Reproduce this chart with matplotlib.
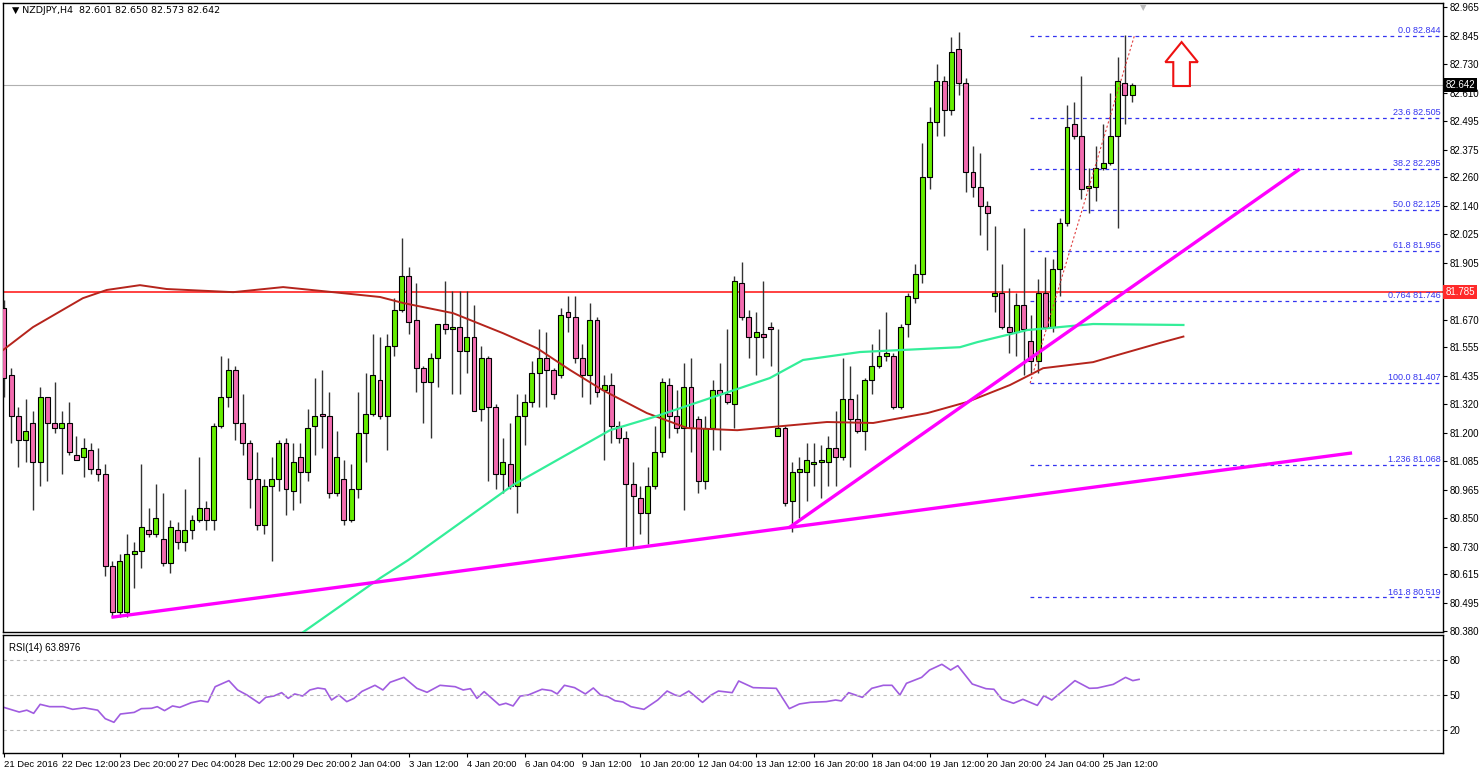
import numpy as np
import matplotlib
matplotlib.use("Agg")
import matplotlib.pyplot as plt
from matplotlib.patches import Polygon

plt.rcParams['font.family'] = ['Liberation Sans', 'DejaVu Sans']

# ---------------- data ----------------
opens = [81.72,81.44,81.27,81.17,81.24,81.08,81.35,81.24,81.22,81.24,81.11,81.10,81.13,81.05,81.03,80.65,80.46,80.46,80.70,80.71,
         80.80,80.78,80.76,80.66,80.80,80.75,80.80,80.84,80.89,80.84,81.23,81.35,81.46,81.24,81.16,81.01,80.82,80.98,81.01,81.16,
         80.96,81.10,81.04,81.23,81.28,81.27,80.95,81.01,80.84,80.97,81.20,81.28,81.42,81.27,81.56,81.71,81.85,81.67,81.47,81.41,
         81.51,81.65,81.63,81.64,81.54,81.60,81.30,81.51,81.31,81.03,81.07,80.98,81.27,81.33,81.45,81.51,81.46,81.44,81.70,81.68,
         81.51,81.44,81.67,81.38,81.40,81.23,81.18,80.99,80.93,80.87,80.98,81.12,81.40,81.27,81.22,81.39,81.26,81.00,81.22,81.38,
         81.36,81.32,81.82,81.68,81.60,81.61,81.64,81.19,81.22,80.92,81.04,81.04,81.07,81.08,81.08,81.14,81.10,81.34,81.26,81.21,
         81.42,81.48,81.52,81.52,81.31,81.65,81.76,81.86,82.26,82.49,82.66,82.54,82.79,82.65,82.28,82.22,82.14,81.77,81.78,81.64,
         81.62,81.73,81.58,81.50,81.78,81.64,81.88,82.07,82.48,82.43,82.215,82.22,82.30,82.32,82.43,82.65,82.601]
highs = [81.75,81.47,81.31,81.34,81.29,81.39,81.35,81.41,81.29,81.33,81.19,81.18,81.16,81.14,81.07,80.67,80.70,80.78,80.75,81.07,
         80.89,80.99,80.95,80.84,80.83,80.97,80.86,81.10,80.92,81.24,81.52,81.51,81.48,81.36,81.17,81.12,81.01,81.10,81.17,81.18,
         81.16,81.16,81.30,81.43,81.46,81.37,81.21,81.09,81.07,81.37,81.45,81.61,81.60,81.61,81.76,82.01,81.89,81.82,81.48,81.53,
         81.65,81.83,81.79,81.79,81.79,81.73,81.56,81.52,81.32,81.18,81.24,81.36,81.36,81.50,81.63,81.62,81.47,81.72,81.77,81.77,
         81.57,81.74,81.68,81.44,81.45,81.25,81.21,81.08,80.98,81.06,81.23,81.43,81.43,81.38,81.49,81.51,81.27,81.27,81.42,81.49,
         81.63,81.85,81.91,81.71,81.70,81.83,81.66,81.63,81.23,81.08,81.10,81.16,81.16,81.15,81.19,81.29,81.51,81.48,81.36,81.43,
         81.57,81.63,81.70,81.53,81.65,81.78,81.90,82.40,82.55,82.73,82.68,82.84,82.86,82.67,82.39,82.36,82.16,82.06,81.90,81.80,
         81.78,82.05,81.69,81.84,81.93,81.92,82.09,82.56,82.57,82.68,82.30,82.39,82.48,82.61,82.76,82.85,82.650]
lows = [81.35,81.16,81.06,81.08,80.88,80.98,81.00,81.20,81.03,81.11,81.09,81.02,81.03,81.00,80.61,80.44,80.44,80.44,80.56,80.64,
        80.77,80.77,80.65,80.62,80.72,80.71,80.76,80.83,80.80,80.80,81.22,81.31,81.17,81.11,80.89,80.80,80.78,80.67,80.96,80.86,
        80.88,80.91,81.00,81.11,81.14,80.93,80.94,80.82,80.83,80.93,81.08,81.27,81.26,81.13,81.52,81.70,81.61,81.37,81.24,81.18,
        81.39,81.61,81.36,81.36,81.45,81.29,81.25,81.00,80.97,80.95,80.97,80.87,81.15,81.31,81.31,81.31,81.34,81.43,81.62,81.49,
        81.35,81.32,81.35,81.09,81.16,81.16,80.73,80.73,80.78,80.74,80.97,81.10,81.18,81.20,80.88,81.12,80.95,80.97,81.13,81.13,
        81.32,81.22,81.67,81.51,81.44,81.51,81.48,81.19,80.90,80.79,80.85,80.92,80.98,80.93,80.98,80.98,81.09,81.06,81.20,81.13,
        81.36,81.47,81.50,81.30,81.30,81.60,81.74,81.82,82.21,82.43,82.43,82.52,82.60,82.20,82.18,82.02,81.96,81.70,81.63,81.53,
        81.52,81.44,81.45,81.45,81.63,81.62,81.77,82.06,82.42,82.17,82.11,82.16,82.29,82.31,82.05,82.48,82.573]
closes = [81.43,81.27,81.17,81.21,81.08,81.35,81.24,81.22,81.24,81.12,81.09,81.14,81.05,81.03,80.65,80.46,80.67,80.70,80.71,80.81,
          80.78,80.85,80.66,80.81,80.75,80.80,80.84,80.89,80.84,81.23,81.35,81.46,81.24,81.16,81.01,80.82,80.98,81.01,81.16,80.97,
          81.08,81.04,81.22,81.27,81.27,80.95,81.10,80.84,80.97,81.20,81.28,81.44,81.27,81.56,81.71,81.85,81.66,81.47,81.41,81.51,
          81.65,81.63,81.64,81.54,81.60,81.29,81.51,81.31,81.03,81.08,80.98,81.27,81.33,81.45,81.51,81.46,81.36,81.69,81.68,81.51,
          81.44,81.67,81.37,81.40,81.23,81.18,80.99,80.94,80.87,80.98,81.12,81.41,81.27,81.22,81.39,81.22,81.00,81.22,81.38,81.36,
          81.33,81.83,81.68,81.60,81.62,81.60,81.63,81.22,80.91,81.04,81.05,81.09,81.08,81.09,81.14,81.10,81.34,81.26,81.21,81.42,
          81.48,81.52,81.53,81.31,81.64,81.77,81.86,82.26,82.49,82.66,82.54,82.78,82.65,82.28,82.22,82.14,82.11,81.78,81.64,81.62,
          81.73,81.63,81.50,81.78,81.64,81.88,82.07,82.47,82.43,82.21,82.225,82.30,82.32,82.43,82.66,82.60,82.642]

ma_red_bar = [-0.14,4.0,10.9,14.2,18.8,22.5,31.7,38.6,45.5,52.0,55.2,62.1,69.0,73.7,78.3,82.8,88.9,94.5,101.4,104.6,113.8,120.2,127.7,133.2,139.1,143.7,150.6,153.0,159.9,163.1]
ma_red_val = [81.544,81.639,81.759,81.793,81.813,81.797,81.784,81.805,81.784,81.764,81.739,81.697,81.614,81.552,81.461,81.378,81.283,81.221,81.212,81.221,81.246,81.242,81.283,81.329,81.399,81.469,81.494,81.515,81.574,81.600]
ma_green_bar = [41.4,52.0,55.9,70.4,83.8,89.8,105.9,110.5,118.4,132.2,134.6,141.5,150.6,163.1]
ma_green_val = [80.376,80.599,80.674,80.985,81.212,81.266,81.428,81.503,81.536,81.556,81.577,81.627,81.652,81.648]

rsi_bar = [-0.02,2.1,3.15,4.1,5.0,6.3,8.2,9.5,11.1,12.95,14.0,15.2,16.1,18.0,19.0,20.4,21.2,22.2,23.3,24.3,25.9,27.2,28.2,29.2,31.1,32.3,33.6,35.3,36.2,37.3,
           38.4,39.3,40.2,41.3,42.3,43.4,44.4,45.3,46.3,47.4,48.4,49.5,51.3,52.4,53.4,55.3,57.1,58.5,60.3,62.4,63.5,64.5,65.4,66.4,68.5,69.4,70.4,71.4,72.5,74.4,
           75.7,76.5,77.5,78.9,80.4,81.5,82.5,83.5,84.5,85.6,86.7,88.5,90.4,91.7,92.8,93.5,94.7,96.6,97.8,98.8,100.7,101.6,103.6,106.8,108.6,110.0,111.5,113.7,115.0,115.8,
           116.8,118.7,120.0,121.6,122.8,123.9,124.8,126.9,128.0,129.7,130.9,131.9,133.9,135.8,136.9,138.0,139.6,140.9,142.9,143.8,144.9,146.7,148.1,150.1,151.2,153.4,155.1,156.1,156.97]
rsi_val = [39.4,35.4,37.0,34.3,42.0,40.0,40.0,37.7,39.0,37.0,29.7,26.6,33.7,35.1,38.3,38.6,40.0,36.6,40.6,39.4,43.4,45.1,44.0,57.1,62.3,54.3,50.0,42.9,48.0,49.1,
           52.0,47.1,50.9,49.1,54.3,56.0,55.1,45.7,50.0,44.3,47.1,53.1,58.3,54.3,60.9,65.1,55.7,52.3,58.3,57.1,54.3,55.4,47.1,52.9,41.4,42.9,40.6,49.1,50.0,54.9,
           53.7,50.9,58.3,56.3,50.9,56.0,50.0,48.6,45.1,44.0,40.0,37.7,45.7,53.4,50.0,49.0,53.4,43.7,50.0,53.4,52.0,62.0,56.3,55.7,38.3,42.3,43.7,44.3,45.7,44.9,
           52.0,48.0,55.7,58.3,58.3,50.0,60.0,65.1,71.4,76.3,71.4,75.1,59.4,55.4,54.9,46.3,42.9,46.3,41.1,49.4,45.7,54.9,62.3,55.7,56.0,59.1,65.1,62.3,63.4]

date_labels = ["21 Dec 2016","22 Dec 12:00","23 Dec 20:00","27 Dec 04:00","28 Dec 12:00","29 Dec 20:00","2 Jan 04:00",
               "3 Jan 12:00","4 Jan 20:00","6 Jan 04:00","9 Jan 12:00","10 Jan 20:00","12 Jan 04:00","13 Jan 12:00",
               "16 Jan 20:00","18 Jan 04:00","19 Jan 12:00","20 Jan 20:00","24 Jan 04:00","25 Jan 12:00"]
date_bars = list(range(0, 160, 8))

price_ticks = [82.965,82.845,82.730,82.610,82.495,82.375,82.260,82.140,82.025,81.905,81.785,81.670,81.555,81.435,
               81.320,81.200,81.085,80.965,80.850,80.730,80.615,80.495,80.380]

fib_ratio = ["0.0","23.6","38.2","50.0","61.8","0.764","100.0","1.236","161.8"]
fib_price = [82.844,82.505,82.295,82.125,81.956,81.746,81.407,81.068,80.519]

resistance = 81.785
last_price = 82.642
trend1_bar = [15.08, 186.2]; trend1_val = [80.438, 81.117]
trend2_bar = [108.7, 179.0]; trend2_val = [80.811, 82.290]
fib_start_bar, fib_end_bar = 141.9, 156.3

# ---------------- figure ----------------
W, H = 1480, 772
fig = plt.figure(figsize=(W/100, H/100), dpi=100, facecolor='white')
L, R = 3/W, 1443/W
ax = fig.add_axes([L, (H-632)/H, R-L, (632-3)/H])
axr = fig.add_axes([L, (H-753)/H, R-L, (753-635)/H], sharex=ax)

XMIN, XMAX = -0.14, 199.0
ax.set_xlim(XMIN, XMAX)
ax.set_ylim(80.376, 82.982)

o = np.array(opens); h = np.array(highs); l = np.array(lows); c = np.array(closes)
x = np.arange(len(o))
up = c >= o
bull, bear = '#66ee00', '#f36cb0'
ax.vlines(x, l, h, color='#333333', lw=1.0, zorder=3)
body_lo = np.minimum(o, c)
body_h = np.maximum(np.abs(c - o), 0.006)
ax.bar(x, body_h, bottom=body_lo, width=0.68, color=np.where(up, bull, bear),
       edgecolor='black', linewidth=0.8, zorder=4)

ax.plot(ma_red_bar, ma_red_val, color='#b5241c', lw=1.4, zorder=5)
ax.plot(ma_green_bar, ma_green_val, color='#33ee99', lw=1.6, zorder=5)
ax.axhline(resistance, color='#ff3333', lw=1.3, zorder=2)
ax.axhline(last_price, color='#b0b0b0', lw=0.8, zorder=2)
ax.plot(trend1_bar, trend1_val, color='#ff00ff', lw=2.4, zorder=6)
ax.plot(trend2_bar, trend2_val, color='#ff00ff', lw=2.4, zorder=6)

fibc = '#3434f0'
for r, p in zip(fib_ratio, fib_price):
    ax.plot([fib_start_bar, XMAX], [p, p], color=fibc, lw=0.9, ls=(0, (3, 3)), zorder=2)
    ax.text(XMAX - 0.3, p + 0.004, f"{r} {p:.3f}", color=fibc, fontsize=6.5, ha='right', va='bottom', zorder=7)
ax.plot([fib_start_bar, fib_end_bar], [fib_price[6], fib_price[0]], color='#e04040', lw=0.8, ls=(0, (2, 2)), zorder=6)

arrow = Polygon([(161.7, 82.638), (164.0, 82.638), (164.0, 82.737), (165.1, 82.737), (162.85, 82.82),
                 (160.6, 82.737), (161.7, 82.737)], closed=True, fill=False, edgecolor='#ee1111', lw=1.5, zorder=7)
ax.add_patch(arrow)

ax.text(0.006, 0.996, "\u25BC NZDJPY,H4  82.601 82.650 82.573 82.642", transform=ax.transAxes,
        fontsize=6.8, va='top', ha='left', family=['DejaVu Sans'])
ax.text(157.6, 82.982, "\u25BC", color='#bbbbbb', fontsize=6, ha='center', va='top', family=['DejaVu Sans'])

ax.yaxis.tick_right()
ax.set_yticks(price_ticks)
ax.set_yticklabels(["" if abs(t - resistance) < 1e-6 else f"{t:.3f}" for t in price_ticks])
ax.tick_params(axis='y', labelsize=7, length=3, pad=2, colors='black')
ax.tick_params(axis='x', bottom=False, labelbottom=False)
lbl_kw = dict(transform=ax.get_yaxis_transform(), fontsize=7, ha='left', va='center', zorder=10, clip_on=False)
ax.text(1.0015, resistance, "81.785", color='white', bbox=dict(boxstyle='square,pad=0.2', fc='#ff2a2a', ec='none'), **lbl_kw)
ax.text(1.0015, last_price, "82.642", color='white', bbox=dict(boxstyle='square,pad=0.2', fc='black', ec='none'), **lbl_kw)

axr.set_ylim(0.3, 101.4)
axr.plot(rsi_bar, rsi_val, color='#a05ce0', lw=1.2)
for lv in (20, 50, 80):
    axr.axhline(lv, color='#bbbbbb', lw=0.8, ls=(0, (3, 3)))
axr.yaxis.tick_right()
axr.set_yticks([20, 50, 80])
axr.tick_params(axis='y', labelsize=7, length=3, pad=2)
axr.text(0.004, 0.93, "RSI(14) 63.8976", transform=axr.transAxes, fontsize=7, va='top')
axr.set_xticks(date_bars)
axr.set_xticklabels(date_labels, ha='left')
axr.tick_params(axis='x', labelsize=6.8, length=3, pad=2)

for a in (ax, axr):
    for s in a.spines.values():
        s.set_linewidth(1.0)

fig.savefig("out.png", dpi=100, facecolor='white')
